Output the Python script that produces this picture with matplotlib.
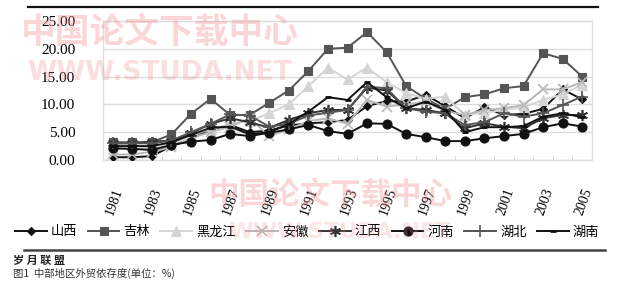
import matplotlib
matplotlib.use("Agg")
import matplotlib.pyplot as plt
from matplotlib.lines import Line2D
import numpy as np

plt.rcParams['font.family'] = ['Liberation Serif', 'Noto Sans CJK SC', 'DejaVu Sans']

years = list(range(1981, 2006))
tick_years = [1981, 1983, 1985, 1987, 1989, 1991, 1993, 1995, 1997, 1999, 2001, 2003, 2005]

shanxi = [0.5, 0.5, 0.7, 2.5, 3.8, 5.5, 6.3, 5.0, 5.3, 6.2, 6.6, 6.8, 7.2, 9.7, 10.6, 10.5, 11.7, 9.7, 7.5, 9.5, 8.1, 8.3, 9.2, 12.7, 10.9]
jilin = [3.2, 3.2, 3.2, 4.6, 8.3, 11.0, 8.1, 8.1, 10.3, 12.5, 16.0, 20.0, 20.2, 23.0, 19.4, 13.3, 11.0, 9.2, 11.3, 11.8, 12.9, 13.3, 19.2, 18.2, 15.0]
heilongjiang = [2.0, 2.0, 2.2, 2.8, 4.5, 5.5, 6.5, 7.0, 8.4, 10.0, 13.3, 16.6, 14.5, 16.6, 14.0, 12.0, 11.0, 11.4, 8.1, 8.5, 9.0, 9.5, 10.8, 11.8, 13.5]
anhui = [1.0, 1.0, 1.5, 2.3, 4.0, 5.0, 6.0, 7.5, 4.3, 5.5, 7.0, 7.5, 6.5, 10.8, 9.6, 10.0, 10.5, 8.8, 8.1, 9.0, 9.3, 9.9, 12.7, 12.7, 14.0]
jiangxi = [3.0, 3.0, 3.3, 3.5, 4.8, 6.5, 7.5, 6.8, 5.8, 7.2, 8.4, 9.0, 9.0, 13.0, 12.5, 9.3, 9.0, 8.4, 5.7, 6.6, 6.0, 5.7, 7.5, 8.1, 8.1]
henan = [2.1, 2.0, 1.8, 2.7, 3.3, 3.6, 4.7, 4.3, 4.9, 5.5, 6.3, 5.2, 4.7, 6.6, 6.5, 4.7, 4.1, 3.4, 3.4, 3.9, 4.3, 4.7, 5.9, 6.6, 6.0]
hubei = [3.0, 3.0, 3.0, 3.5, 5.0, 6.5, 8.2, 8.0, 6.0, 6.5, 8.0, 8.5, 9.0, 13.2, 12.9, 9.3, 8.7, 8.4, 6.3, 6.8, 8.4, 7.8, 8.4, 9.9, 11.4]
hunan = [2.5, 2.5, 2.5, 3.2, 4.5, 5.8, 6.0, 4.6, 5.0, 6.5, 8.7, 11.3, 10.8, 14.0, 11.3, 9.3, 10.5, 9.0, 5.0, 5.9, 5.9, 6.1, 7.8, 8.4, 7.7]

names = ['山西', '吉林', '黑龙江', '安徽', '江西', '河南', '湖北', '湖南']
series = [shanxi, jilin, heilongjiang, anhui, jiangxi, henan, hubei, hunan]
styles = [
    dict(color='#111111', marker='D', ms=4.5, mfc='#111111', mec='#111111', mew=0.8),
    dict(color='#555555', marker='s', ms=5.5, mfc='#555555', mec='#555555', mew=0.8),
    dict(color='#d4d4d4', marker='^', ms=6.5, mfc='#d4d4d4', mec='#d4d4d4', mew=0.8),
    dict(color='#b8b8b8', marker='x', ms=7, mfc='#b8b8b8', mec='#b8b8b8', mew=1.2),
    dict(color='#333333', marker=(6, 2, 0), ms=8, mfc='#333333', mec='#333333', mew=1.2),
    dict(color='#111111', marker='o', ms=6.5, mfc='#111111', mec='#111111', mew=0.8),
    dict(color='#555555', marker='+', ms=9, mfc='#555555', mec='#555555', mew=1.2),
    dict(color='#111111', marker='_', ms=5, mfc='#111111', mec='#111111', mew=2.0),
]

fig = plt.figure(figsize=(6.18, 2.89), dpi=100)
ax = fig.add_axes([103/618, 1-160/289, (592-103)/618, (160-21)/289])

x = np.arange(len(years))
for s, st in zip(series, styles):
    ax.plot(x, s, lw=1.4, zorder=3, **st)

ax.set_xlim(-0.5, len(years)-0.5)
ax.set_ylim(0, 25)
ax.set_yticks([0, 5, 10, 15, 20, 25])
ax.set_yticklabels(['%.2f' % v for v in [0, 5, 10, 15, 20, 25]], fontsize=11)
ax.yaxis.grid(True, color='#dddddd', lw=1.0)
ax.set_axisbelow(True)
for sp in ax.spines.values():
    sp.set_color('#dddddd')
    sp.set_linewidth(1.0)
ax.tick_params(axis='y', length=0, pad=20)

ax.set_xticks(np.arange(-0.5, len(years), 1), minor=True)
ax.tick_params(axis='x', which='minor', direction='in', length=3, color='#cccccc')
ax.set_xticks([years.index(y) for y in tick_years])
ax.set_xticklabels([str(y) for y in tick_years], rotation=70, fontsize=10,
                   ha='right', rotation_mode='anchor')
ax.tick_params(axis='x', which='major', length=0, pad=19)

handles = [Line2D([0], [0], lw=1.4, **st) for st in styles]
leg = fig.legend(handles, names, loc='center', ncol=8, frameon=False,
                 bbox_to_anchor=(0.497, 1-232/289),
                 handlelength=2.4, handletextpad=0.3, columnspacing=0.8,
                 prop={'family': ['Noto Sans CJK SC'], 'size': 9.5})

# rules
fig.add_artist(Line2D([28/618, 598/618], [1-7/289, 1-7/289], color='#111111', lw=1.6))
fig.add_artist(Line2D([24/618, 605/618], [1-250/289, 1-250/289], color='#444444', lw=1.8))

# caption
fig.text(13/618, 1-260/289, '岁 月 联 盟', fontsize=8, fontweight='bold', color='#222222',
         family=['Noto Sans CJK SC'], va='center', ha='left')
fig.text(13/618, 1-273/289, '图1  中部地区外贸依存度(单位：%)', fontsize=7.5, color='#333333',
         family=['Noto Sans CJK SC', 'DejaVu Sans'], va='center', ha='left')

# watermarks
wm = (0.95, 0.55, 0.55, 0.35)
fig.text(160/618, 1-32/289, '中国论文下载中心', fontsize=25, fontweight='bold', color=wm,
         family=['Noto Sans CJK SC'], ha='center', va='center', zorder=10)
fig.text(160/618, 1-73/289, 'WWW.STUDA.NET', fontsize=19, fontweight='bold', color=(0.95, 0.55, 0.55, 0.28),
         family=['DejaVu Sans'], ha='center', va='center', zorder=10)
fig.text(330/618, 1-195/289, '中国论文下载中心', fontsize=22, fontweight='bold', color=wm,
         family=['Noto Sans CJK SC'], ha='center', va='center', zorder=10)
fig.text(340/618, 1-232/289, 'WWW.STUDA.NET', fontsize=16, fontweight='bold', color=(0.95, 0.55, 0.55, 0.22),
         family=['DejaVu Sans'], ha='center', va='center', zorder=10)

fig.savefig('out.png', dpi=100)
